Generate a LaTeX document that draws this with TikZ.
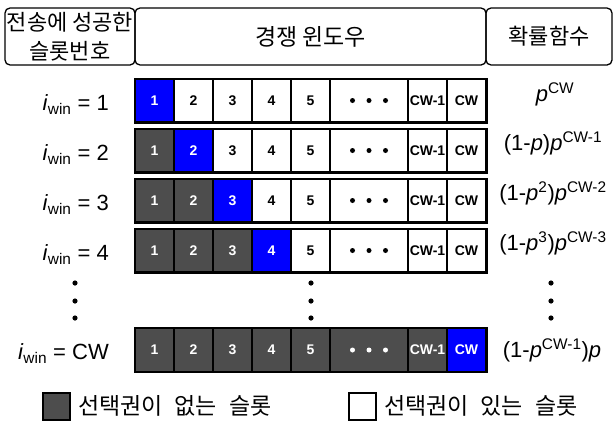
\documentclass[tikz,border=0pt]{standalone}
\usepackage{fontspec}
\setmainfont{Liberation Sans}
\newfontfamily\krfont{Noto Sans CJK KR}
\definecolor{slotgray}{HTML}{4D4D4D}
\definecolor{slotblue}{HTML}{0000FF}
\tikzset{
  hdr/.style={draw, line width=1.3pt, rounded corners=5pt, inner sep=0pt,
    minimum height=57pt, align=center, font=\krfont\fontsize{22}{29}\selectfont},
  cell/.style={draw, line width=1.2pt, minimum height=43pt, inner sep=0pt,
    font=\bfseries\fontsize{14}{14}\selectfont},
  wcell/.style={cell, fill=white, text=black},
  gcell/.style={cell, fill=slotgray, text=white},
  bcell/.style={cell, fill=slotblue, text=white},
  rowframe/.style={draw, line width=1.8pt},
  lab/.style={inner sep=0pt, font=\fontsize{22}{24}\selectfont},
  formula/.style={inner sep=0pt, font=\fontsize{22}{24}\selectfont},
  vdot/.style={fill=black},
  legbox/.style={draw, line width=1.2pt, minimum width=27pt, minimum height=27pt, inner sep=0pt},
  legtext/.style={inner sep=0pt, font=\krfont\fontsize{23}{25}\selectfont}
}
\newcommand\iwin{\textit{i}\textsubscript{win}}
\newcommand\pp{\textit{p}}
\newcommand\wsp{\hspace{12pt}}
\begin{document}
\begin{tikzpicture}[x=1pt,y=-1pt]
\useasboundingbox (0,0) rectangle (614,421);
% header
\node[hdr, minimum width=130pt] (h1) at (70,36.5) {전송에 성공한\\슬롯번호};
\node[hdr, minimum width=351pt, font=\krfont\fontsize{23}{29}\selectfont] (h2) at (310.5,36.5) {경쟁 윈도우};
\node[hdr, minimum width=126pt] (h3) at (549,36.5) {확률함수};
% rows 1..4
\foreach \r/\y in {1/100.5,2/150.5,3/200.5,4/250.5} {
  \foreach \c/\x/\w/\t in {1/154.5/39/1,2/193.5/39/2,3/232.5/39/3,4/271.5/39/4,5/310.5/39/5,6/369/78/{},7/427.5/39/CW-1,8/466.5/39/CW} {
    \ifnum\c<\r \def\st{gcell}\else\ifnum\c=\r \def\st{bcell}\else\def\st{wcell}\fi\fi
    \node[\st, minimum width=\w pt] (r\r c\c) at (\x,\y) {\t};
  }
  \foreach \dx in {-16.5,0,16.5}
    \fill[black] ([xshift=\dx pt]r\r c6.center) circle (2.5pt);
  \draw[rowframe] (r\r c1.north west) rectangle (r\r c8.south east);
}
% row CW
\foreach \c/\x/\w/\t in {1/154.5/39/1,2/193.5/39/2,3/232.5/39/3,4/271.5/39/4,5/310.5/39/5,6/369/78/{},7/427.5/39/CW-1} {
  \node[gcell, minimum width=\w pt] (r5c\c) at (\x,350) {\t};
}
\node[bcell, minimum width=39pt] (r5c8) at (466.5,350) {CW};
\foreach \dx in {-16.5,0,16.5}
  \fill[white] ([xshift=\dx pt]r5c6.center) circle (2.5pt);
\draw[rowframe] (r5c1.north west) rectangle (r5c8.south east);
% labels
\node[lab, anchor=base east] (l1) at (109,110.5) {\iwin{} = 1};
\node[lab, anchor=base east] (l2) at (109,160.5) {\iwin{} = 2};
\node[lab, anchor=base east] (l3) at (109,210.5) {\iwin{} = 3};
\node[lab, anchor=base east] (l4) at (109,260.5) {\iwin{} = 4};
\node[lab, anchor=base east] (l5) at (109,359) {\iwin{} = CW};
% formulas
\node[formula, anchor=base] (f1) at (555,101) {\pp\textsuperscript{CW}};
\node[formula, anchor=base] (f2) at (553,150.5) {(1-\pp)\pp\textsuperscript{CW-1}};
\node[formula, anchor=base] (f3) at (553,200.5) {(1-\pp\textsuperscript{2})\pp\textsuperscript{CW-2}};
\node[formula, anchor=base] (f4) at (553,250.5) {(1-\pp\textsuperscript{3})\pp\textsuperscript{CW-3}};
\node[formula, anchor=base] (f5) at (552,357.5) {(1-\pp\textsuperscript{CW-1})\pp};
% vertical dots
\foreach \xx in {75,311,551}
  \foreach \yy in {283,301,318}
    \fill[vdot] (\xx,\yy) circle (2.6pt);
% legend
\node[legbox, fill=slotgray] (lg1) at (56.5,406.5) {};
\node[legtext, anchor=west] (lt1) at (78,406) {선택권이\wsp 없는\wsp 슬롯};
\node[legbox, fill=white] (lg2) at (362.5,406.5) {};
\node[legtext, anchor=west] (lt2) at (384,406) {선택권이\wsp 있는\wsp 슬롯};
\end{tikzpicture}
\end{document}
